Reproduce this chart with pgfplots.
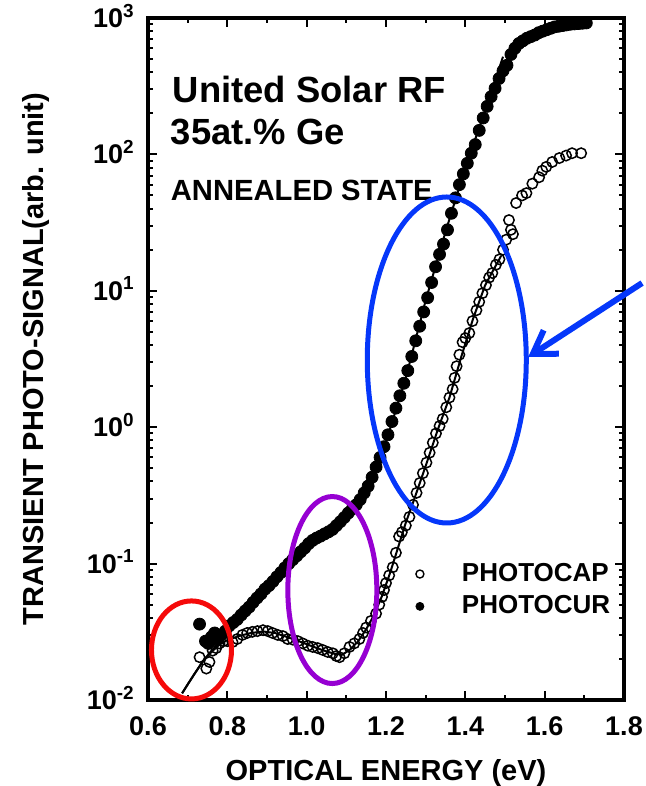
\documentclass[border=0pt]{standalone}
\usepackage{fontspec}
\setmainfont{Liberation Sans}
\usepackage{pgfplots}
\usepackage{pgfplotstable}
\pgfplotsset{compat=1.18}
\usetikzlibrary{arrows.meta}
\definecolor{myred}{RGB}{245,10,10}
\definecolor{mypurp}{RGB}{150,0,210}
\definecolor{myblue}{RGB}{5,55,250}
\pgfplotsset{mylegimg/.style={legend image code/.code={\path[draw=none,fill=none] (-3pt,0pt) -- (3pt,0pt); \draw[##1] plot coordinates {(0pt,0pt)};}}}

\pgfplotstableread{
x y
0.730 0.036
0.745 0.027
0.752 0.026
0.760 0.029
0.768 0.031
0.775 0.028
0.785 0.030
0.795 0.032
0.805 0.035
0.815 0.037
0.825 0.039
0.835 0.042
0.845 0.045
0.855 0.048
0.865 0.052
0.875 0.056
0.885 0.060
0.895 0.065
0.905 0.069
0.915 0.074
0.925 0.080
0.935 0.086
0.945 0.093
0.955 0.100
0.965 0.107
0.975 0.114
0.985 0.122
0.995 0.130
1.005 0.140
1.015 0.148
1.025 0.154
1.035 0.159
1.045 0.165
1.055 0.171
1.065 0.178
1.075 0.190
1.085 0.203
1.095 0.218
1.105 0.235
1.115 0.252
1.125 0.270
1.135 0.295
1.145 0.33
1.155 0.37
1.165 0.43
1.175 0.51
1.185 0.60
1.195 0.72
1.205 0.88
1.215 1.10
1.225 1.38
1.235 1.70
1.245 2.10
1.255 2.60
1.265 3.30
1.275 4.3
1.285 5.5
1.295 7.0
1.305 8.9
1.315 11.5
1.325 15
1.335 18.5
1.345 22
1.355 28
1.365 37
1.375 48
1.385 60
1.395 72
1.405 86
1.415 102
1.425 118
1.435 150
1.445 185
1.455 225
1.465 265
1.475 305
1.485 360
1.495 410
1.505 450
1.515 540
1.525 600
1.535 650
1.545 680
1.555 710
1.565 730
1.575 750
1.585 780
1.595 800
1.605 820
1.615 840
1.625 860
1.635 870
1.645 880
1.655 890
1.665 900
1.675 905
1.685 910
1.695 915
1.705 920
}\curdata

\pgfplotstableread{
x y
0.730 0.0206
0.747 0.017
0.755 0.019
0.763 0.023
0.772 0.024
0.780 0.026
0.790 0.027
0.800 0.027
0.813 0.0266
0.825 0.028
0.838 0.030
0.850 0.031
0.863 0.0316
0.876 0.032
0.890 0.0325
0.902 0.032
0.914 0.031
0.927 0.030
0.940 0.0294
0.952 0.028
0.965 0.0277
0.978 0.027
0.990 0.026
1.003 0.025
1.015 0.0245
1.028 0.024
1.040 0.0233
1.053 0.0225
1.066 0.022
1.075 0.021
1.083 0.0206
1.095 0.022
1.108 0.0245
1.120 0.026
1.133 0.028
1.142 0.031
1.150 0.034
1.162 0.038
1.175 0.043
1.183 0.050
1.190 0.057
1.195 0.064
1.200 0.072
1.208 0.082
1.217 0.094
1.225 0.12
1.233 0.158
1.240 0.17
1.250 0.19
1.259 0.22
1.268 0.27
1.277 0.33
1.285 0.39
1.293 0.46
1.302 0.55
1.310 0.65
1.318 0.77
1.326 0.90
1.335 1.02
1.343 1.15
1.352 1.40
1.360 1.65
1.368 1.9
1.373 2.3
1.378 2.8
1.385 3.4
1.393 4.2
1.400 4.5
1.410 4.9
1.418 6.0
1.428 7.2
1.435 8.3
1.443 9.6
1.452 11
1.460 12.5
1.468 13.5
1.477 15.5
1.486 17
1.495 20
1.503 23.7
1.510 33
1.515 28
1.520 26
1.528 44
1.543 50
1.554 52
1.569 61
1.586 68
1.594 76
1.604 81
1.619 88
1.637 94
1.654 98
1.669 102
1.692 102
}\capdata

\pgfplotstableread{
x y
0.686 0.0112
0.70 0.0130
0.72 0.0160
0.74 0.0195
0.76 0.0230
0.78 0.0265
0.80 0.030
0.82 0.035
0.85 0.044
0.90 0.064
0.95 0.092
1.00 0.128
1.05 0.165
1.10 0.225
1.15 0.36
1.20 0.78
1.25 2.3
1.30 8.5
1.35 27
1.40 80
1.45 210
1.495 520
}\curfit

\pgfplotstableread{
x y
0.686 0.0112
0.70 0.0130
0.72 0.0160
0.74 0.0195
0.76 0.0225
0.78 0.0255
0.80 0.0275
0.83 0.0295
0.86 0.031
0.89 0.0318
0.92 0.031
0.95 0.029
0.98 0.027
1.01 0.025
1.04 0.0232
1.07 0.0218
1.09 0.0215
1.11 0.0235
1.13 0.027
1.15 0.033
1.17 0.042
1.19 0.058
1.21 0.085
1.23 0.13
1.25 0.20
1.27 0.29
1.30 0.52
1.33 0.95
1.36 1.65
1.39 3.3
1.42 6.3
1.45 11
1.49 18
}\capfit

\begin{document}
\begin{tikzpicture}
\begin{axis}[
  width=238pt, height=341pt, scale only axis,
  xmin=0.6, xmax=1.8, ymin=0.01, ymax=1000, ymode=log,
  xtick={0.6,0.8,1.0,1.2,1.4,1.6,1.8},
  xticklabels={0.6,0.8,1.0,1.2,1.4,1.6,1.8},
  minor xtick={0.7,0.9,1.1,1.3,1.5,1.7},
  ytick={0.01,0.1,1,10,100,1000},
  yticklabels={10\textsuperscript{-2},10\textsuperscript{-1},10\textsuperscript{0},10\textsuperscript{1},10\textsuperscript{2},10\textsuperscript{3}},
  tick align=inside,
  major tick length=4.5pt, minor tick length=2.5pt,
  axis line style={line width=1.6pt},
  every tick/.style={black, line width=1pt},
  every tick label/.append style={font=\fontsize{13.5}{16}\selectfont\bfseries, inner sep=0pt},
  xticklabel style={anchor=base, yshift=-17.5pt},
  yticklabel style={anchor=base east, xshift=-6.5pt, yshift=-4.8pt},
  xlabel={OPTICAL ENERGY (eV)},
  ylabel={TRANSIENT PHOTO-SIGNAL(arb. unit)},
  label style={font=\fontsize{14.5}{17}\selectfont\bfseries, inner sep=0pt},
  xlabel style={at={(axis description cs:0.5,-0.1186)}, anchor=base},
  ylabel style={at={(axis description cs:-0.2185,0.5)}, anchor=base},
  legend style={at={(0.5578,0.161)}, anchor=west, draw=none, fill=none, inner sep=0pt,
    nodes={inner sep=0pt},
    /tikz/every odd column/.append style={column sep=18pt},
    font=\fontsize{13}{15}\selectfont\bfseries, row sep=5.6pt},
  legend cell align=left,
]
\addplot[black, line width=1pt, forget plot] table {\curfit};
\addplot[black, line width=1pt, forget plot] table {\capfit};
\addplot[only marks, mark=o, mark size=2.6pt, mark options={line width=0.75pt, black}, forget plot] table {\capdata};
\addplot[only marks, mark=*, mark size=3pt, mark options={black}, forget plot] table {\curdata};
\addlegendimage{only marks, mark=o, mark size=2pt, mark options={line width=0.7pt, black}, mylegimg}
\addlegendentry{PHOTOCAP}
\addlegendimage{only marks, mark=*, mark size=2pt, mark options={black}, mylegimg}
\addlegendentry{PHOTOCUR}

\node[anchor=base west, inner sep=0pt, font=\fontsize{18.2}{20}\selectfont\bfseries] at (axis cs:0.6617,242) {United Solar RF};
\node[anchor=base west, inner sep=0pt, font=\fontsize{18.2}{20}\selectfont\bfseries] at (axis cs:0.6567,119) {35at.\% Ge};
\node[anchor=base west, inner sep=0pt, font=\fontsize{14.6}{17}\selectfont\bfseries] at (axis cs:0.6567,46.3) {ANNEALED STATE};

\coordinate (redc) at (axis cs:0.7096,0.02328);
\coordinate (purc) at (axis cs:1.0647,0.0640);
\coordinate (bluc) at (axis cs:1.3532,3.11);
\coordinate (arS) at (axis cs:1.8456,11.4);
\coordinate (arT) at (axis cs:1.5584,3.27);
\coordinate (bl) at (rel axis cs:0,0);
\coordinate (tr) at (rel axis cs:1,1);
\end{axis}
\draw[myred, line width=2.5pt] (redc) ellipse [x radius=20pt, y radius=24.5pt];
\draw[mypurp, line width=2.5pt] (purc) ellipse [x radius=22.25pt, y radius=46.75pt];
\draw[myblue, line width=2.5pt] (bluc) ellipse [x radius=39.75pt, y radius=81.5pt];
\draw[myblue, line width=3pt, -{Straight Barb[length=11pt,width=14pt]}] (arS) -- (arT);
\pgfresetboundingbox
\path[use as bounding box] ([shift={(-74pt,-43pt)}]bl) rectangle ([shift={(11pt,9pt)}]tr);
\end{tikzpicture}
\end{document}
